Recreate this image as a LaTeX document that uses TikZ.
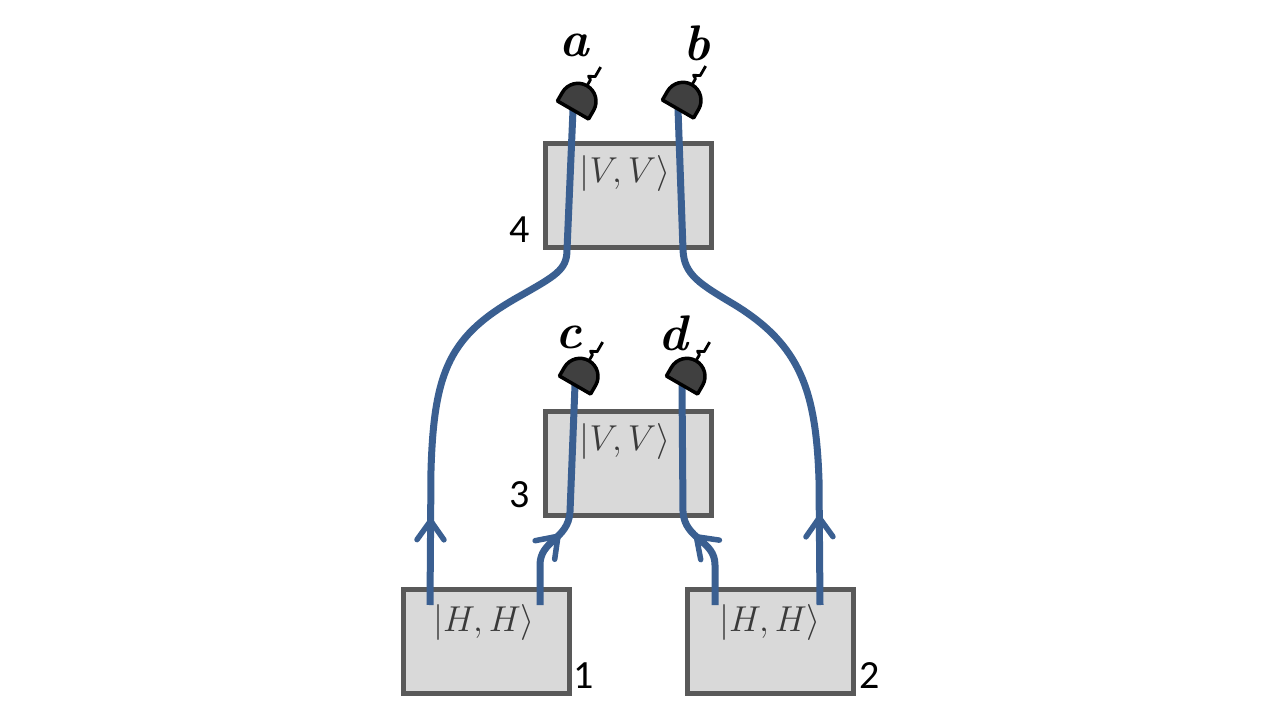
\RequirePackage{fix-cm}
\documentclass[tikz,border=0pt]{standalone}
\usepackage{fontspec}
\setsansfont{Carlito}
\usetikzlibrary{arrows.meta,decorations.markings}
\definecolor{beamblue}{HTML}{3A5F91}
\definecolor{boxfill}{HTML}{D9D9D9}
\definecolor{boxline}{HTML}{595959}
\definecolor{txtgrey}{HTML}{3A3A3A}
\definecolor{detfill}{HTML}{404040}
\tikzset{
  box/.style={draw=boxline, fill=boxfill, line width=5pt, minimum width=166pt, minimum height=104pt, inner sep=0pt},
  state/.style={text=txtgrey, font=\fontsize{36}{42}\selectfont, inner sep=0pt},
  num/.style={font=\sffamily\fontsize{40}{48}\selectfont, inner sep=0pt},
  lbl/.style={font=\bfseries\itshape\fontsize{50}{56}\selectfont, inner sep=0pt},
  beam/.style={draw=beamblue, line width=7pt},
  chevron/.style={postaction={decorate}, decoration={markings, mark=at position #1 with {\arrow[beamblue, line width=5.5pt]{Straight Barb[length=19pt, width=27pt, line cap=round, line join=round]}}}},
  detector/.pic={
    \draw[line width=3.5pt, fill=detfill, line join=round] (-18,0) -- (-18,-10) arc[start angle=180, end angle=360, radius=18] -- (18,0) -- cycle;
    \draw[line width=2.8pt, line join=round] (0,-28) -- (0,-35) -- (-3.5,-37) -- (2.5,-40) -- (2.5,-51);
  }
}
\begin{document}
\begin{tikzpicture}[x=1pt,y=-1pt]
\useasboundingbox (0,0) rectangle (1280,720);
% boxes
\node[box] (B4) at (628,195) {};
\node[box] (B3) at (628,463) {};
\node[box] (B1) at (486,641) {};
\node[box] (B2) at (770,641) {};
% state texts
\node[state] (T4) at (625,173) {$|V,V\rangle$};
\node[state] (T3) at (625,441) {$|V,V\rangle$};
\node[state] (T1) at (484,622) {$|H,H\rangle$};
\node[state] (T2) at (770,622) {$|H,H\rangle$};
% numbers
\node[num] (N4) at (520,230) {4};
\node[num] (N3) at (520,495) {3};
\node[num] (N1) at (584,676) {1};
\node[num] (N2) at (870,676) {2};
% beam end points
\coordinate (s1l) at (430,605);
\coordinate (s1r) at (540,605);
\coordinate (s2l) at (715,605);
\coordinate (s2r) at (820,605);
\coordinate (da) at (573,110);
\coordinate (db) at (678,109);
\coordinate (dc) at (575,385);
\coordinate (dd) at (682,385);
% beams
\draw[beam, chevron=87pt] (s1l) -- (431,470) .. controls (434,370) and (450,335) .. (520,296) .. controls (555,276) and (567,270) .. (567,250) -- (da);
\draw[beam, chevron=90pt] (s2r) -- (819,480) .. controls (816,390) and (800,345) .. (735,305) .. controls (700,284) and (684,275) .. (683,250) -- (db);
\draw[beam, chevron=78pt] (s1r) -- (540,565) .. controls (540,540) and (568,540) .. (570,512) -- (dc);
\draw[beam, chevron=78pt] (s2l) -- (715,565) .. controls (715,540) and (685,540) .. (683,512) -- (dd);
% detectors
\pic[rotate=-30] at (da) {detector};
\pic[rotate=-30] at (db) {detector};
\pic[rotate=-30] at (dc) {detector};
\pic[rotate=-30] at (dd) {detector};
% labels
\node[lbl] (La) at (574,45) {a};
\node[lbl] (Lb) at (697,43) {b};
\node[lbl] (Lc) at (569,337) {c};
\node[lbl] (Ld) at (673,333) {d};
\end{tikzpicture}
\end{document}
